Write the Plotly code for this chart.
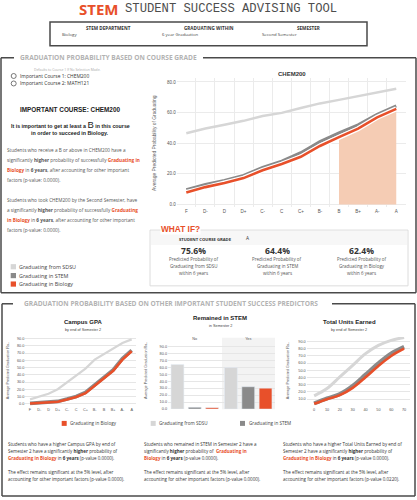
import plotly.graph_objects as go

# ---------------- data ----------------
grades = ["F", "D-", "D", "D+", "C-", "C", "C+", "B-", "B", "B+", "A-", "A"]
chem_sdsu = [46.5, 49.6, 52.1, 54.6, 57.8, 59.8, 63.0, 66.0, 68.3, 70.8, 73.6, 75.6]
chem_stem = [9.6, 13.1, 15.6, 19.0, 24.1, 28.3, 33.8, 41.0, 46.7, 52.0, 58.8, 64.4]
chem_bio = [7.8, 11.3, 14.0, 17.2, 22.3, 26.4, 31.1, 38.2, 44.0, 49.5, 56.9, 62.4]
min_grade = "B"
selected_grade = "A"

gpa_sdsu = [6.0, 9.6, 13.8, 20.0, 29.4, 38.0, 48.6, 61.0, 69.0, 77.0, 84.0, 89.0]
gpa_stem = [0.5, 1.4, 1.8, 3.2, 6.4, 10.0, 15.6, 25.7, 35.8, 46.8, 62.4, 74.0]
gpa_bio = [0.3, 1.0, 1.5, 2.8, 5.8, 9.3, 14.6, 24.5, 34.5, 45.5, 61.0, 72.5]

remained = ["No", "Yes"]
rem_sdsu = [64.0, 59.5]
rem_stem = [2.5, 32.0]
rem_bio = [2.0, 30.0]

units = [0, 10, 20, 30, 40, 50, 60, 70]
units_sdsu = [14.6, 24.7, 40.8, 56.9, 73.0, 84.5, 91.4, 95.5]
units_stem = [4.0, 11.0, 17.0, 28.4, 44.0, 59.7, 73.4, 82.6]
units_bio = [3.6, 10.0, 15.5, 25.6, 40.3, 56.0, 69.8, 79.9]

series_names = ["Graduating from SDSU", "Graduating in STEM", "Graduating in Biology"]

# ---------------- style ----------------
W, H = 417, 500
C_SDSU = "#d6d6d6"
C_STEM = "#8a8a8a"
C_BIO = "#e8502a"
C_FILL = "#f5ccb4"
OPEN = "Open Sans"
ARIAL = "Liberation Sans"
GRID = "#ebebeb"


def X(px):
    return px / W


def Y(py):
    return 1 - py / H


idx = list(range(len(grades)))
fig = go.Figure()

# ---- main CHEM200 chart ----
bi = grades.index(min_grade)
fig.add_trace(go.Scatter(x=idx[bi:], y=chem_bio[bi:], fill="tozeroy", fillcolor=C_FILL,
                         mode="lines", line=dict(width=0), showlegend=False, hoverinfo="skip",
                         xaxis="x", yaxis="y"))
fig.add_trace(go.Scatter(x=idx, y=chem_sdsu, mode="lines", line=dict(color=C_SDSU, width=2.5),
                         name=series_names[0], showlegend=False, xaxis="x", yaxis="y"))
fig.add_trace(go.Scatter(x=idx, y=chem_stem, mode="lines", line=dict(color="white", width=6),
                         showlegend=False, hoverinfo="skip", xaxis="x", yaxis="y"))
fig.add_trace(go.Scatter(x=idx, y=chem_stem, mode="lines", line=dict(color=C_STEM, width=3),
                         name=series_names[1], showlegend=False, xaxis="x", yaxis="y"))
fig.add_trace(go.Scatter(x=idx, y=chem_bio, mode="lines", line=dict(color="white", width=5),
                         showlegend=False, hoverinfo="skip", xaxis="x", yaxis="y"))
fig.add_trace(go.Scatter(x=idx, y=chem_bio, mode="lines", line=dict(color=C_BIO, width=2.6),
                         name=series_names[2], showlegend=False, xaxis="x", yaxis="y"))

# ---- GPA chart ----
for ys, c, w in [(gpa_sdsu, C_SDSU, 2.2), (gpa_stem, C_STEM, 3.6), (gpa_bio, C_BIO, 2.6)]:
    fig.add_trace(go.Scatter(x=idx, y=ys, mode="lines", line=dict(color=c, width=w),
                             showlegend=False, xaxis="x2", yaxis="y2"))

# ---- Remained in STEM bars ----
for ys, c, n in [(rem_sdsu, C_SDSU, series_names[0]), (rem_stem, C_STEM, series_names[1]),
                 (rem_bio, C_BIO, series_names[2])]:
    fig.add_trace(go.Bar(x=remained, y=ys, marker_color=c, name=n, showlegend=False,
                         xaxis="x3", yaxis="y3"))

# ---- Units chart ----
for ys, c, w in [(units_sdsu, C_SDSU, 3.0), (units_stem, C_STEM, 4.0), (units_bio, C_BIO, 2.6)]:
    fig.add_trace(go.Scatter(x=units, y=ys, mode="lines", line=dict(color=c, width=w, shape="spline"),
                             showlegend=False, xaxis="x4", yaxis="y4"))

tickf_main = dict(family=ARIAL, size=4.5, color="#555")
tickf_small = dict(family=ARIAL, size=3.8, color="#555")

layout = dict(
    width=W, height=H, margin=dict(l=0, r=0, t=0, b=0),
    paper_bgcolor="white", plot_bgcolor="rgba(0,0,0,0)",
    showlegend=False, barmode="group", bargap=0.03, bargroupgap=0.26,
    xaxis=dict(domain=[X(176.75), X(405.8)], range=[-0.5, 11.5], tickvals=idx, ticktext=grades,
               showgrid=False, zeroline=False, ticks="", anchor="y", tickfont=tickf_main,
               minor=dict(tick0=-0.5, dtick=1, showgrid=True, gridcolor=GRID, gridwidth=1)),
    yaxis=dict(domain=[Y(208), Y(78)], range=[-1.8, 82.8], tickvals=[0, 20, 40, 60, 80],
               tickformat=".1f", ticksuffix="%", gridcolor=GRID, zeroline=False, anchor="x",
               tickfont=tickf_main, ticks=""),
    xaxis2=dict(domain=[X(25.4), X(136.3)], range=[-0.5, 11.5], tickvals=idx, ticktext=grades,
                showgrid=False, zeroline=False, ticks="", anchor="y2", tickfont=tickf_small),
    yaxis2=dict(domain=[Y(407.5), Y(336.4)], range=[-3, 95], tickvals=list(range(0, 91, 10)),
                tickformat=".1f", ticksuffix="%", gridcolor="#e6e6e6", zeroline=False, anchor="x2",
                tickfont=tickf_small, ticks=""),
    xaxis3=dict(domain=[X(168), X(275)], side="top", showgrid=False, zeroline=False, ticks="",
                anchor="y3", tickfont=tickf_small),
    yaxis3=dict(domain=[Y(410.7), Y(342.8)], range=[0, 97], tickvals=list(range(0, 91, 10)),
                tickformat=".1f", ticksuffix="%", gridcolor="#e6e6e6", zeroline=False, anchor="x3",
                tickfont=tickf_small, ticks=""),
    xaxis4=dict(domain=[X(306.7), X(410)], range=[-5.8, 74.6], tickvals=units, showgrid=False,
                zeroline=False, ticks="", anchor="y4", tickfont=tickf_small),
    yaxis4=dict(domain=[Y(408), Y(338.4)], range=[0, 96], tickvals=list(range(10, 91, 10)),
                tickformat=".1f", ticksuffix="%", gridcolor="#e6e6e6", zeroline=False, anchor="x4",
                tickfont=tickf_small, ticks=""),
)
fig.update_layout(**layout)

shapes = []


def line(x0, y0, x1, y1, color="#4a4a4a", w=1.5):
    shapes.append(dict(type="line", xref="paper", yref="paper", x0=X(x0), y0=Y(y0), x1=X(x1), y1=Y(y1),
                       line=dict(color=color, width=w)))


def rect(x0, y0, x1, y1, line_color=None, fill=None, w=1.0, layer="above"):
    shapes.append(dict(type="rect", xref="paper", yref="paper", x0=X(x0), y0=Y(y0), x1=X(x1), y1=Y(y1),
                       line=dict(color=line_color or "rgba(0,0,0,0)", width=w if line_color else 0),
                       fillcolor=fill or "rgba(0,0,0,0)", layer=layer))


# filter box
rect(50, 22, 367, 46, line_color="#4a4a4a", w=1.5)
# section 1 frame
line(1, 58, 14, 58); line(203, 58, 416, 58)
line(1, 58, 1, 294); line(416, 58, 416, 294); line(1, 294, 416, 294)
# section 2 frame
line(2, 305, 13, 305); line(332, 305, 415, 305)
line(2, 305, 2, 498); line(415, 305, 415, 498); line(2, 498, 415, 498)
# what-if box
rect(150, 231, 408, 287, fill="white", layer="below")
rect(151, 232, 407, 246, fill="#f7f7f7", layer="below")
rect(150, 231, 408, 287, line_color="#dcdcdc", w=1)
# remained "Yes" pane background
rect(222, 339, 275, 411, fill="#f3f3f3", layer="below")
# radio buttons
for cy in (76.3, 83.8):
    shapes.append(dict(type="circle", xref="paper", yref="paper", x0=X(11.2), x1=X(16.2),
                       y0=Y(cy - 2.5), y1=Y(cy + 2.5), line=dict(color="#555", width=0.8)))
# legends (swatches)
for cy, c in zip((267.8, 276.7, 285.2), (C_SDSU, C_STEM, C_BIO)):
    rect(10.7, cy - 2.6, 16, cy + 2.6, fill=c)
for x0, c in zip((61.7, 150.7, 240), (C_BIO, C_SDSU, C_STEM)):
    rect(x0, 422.6, x0 + 5, 427.6, fill=c)

fig.update_layout(shapes=shapes)

anns = []


def A(x, y, text, size, color="#333", family=OPEN, xanchor="left", angle=0, bg=None):
    d = dict(xref="paper", yref="paper", x=X(x), y=Y(y), text=text, showarrow=False,
             xanchor=xanchor, yanchor="middle", textangle=angle,
             font=dict(family=family, size=size, color=color), borderpad=0)
    if bg:
        d["bgcolor"] = bg
    anns.append(d)


def org(t):
    return f"<span style='color:{C_BIO}'><b>{t}</b></span>"


# header
A(78, 9.5, "<b>STEM</b>", 15, C_BIO, OPEN)
A(124, 9, "STUDENT SUCCESS ADVISING TOOL", 12.2, "#4d4d4d", "Liberation Mono")
for cx, lx, head, val in [(108, 61, "STEM DEPARTMENT", "Biology"),
                          (208.7, 160.7, "GRADUATING WITHIN", "6 year Graduation"),
                          (308.8, 261, "SEMESTER", "Second Semester")]:
    A(cx, 28.4, f"<b>{head}</b>", 4.6, "#333", OPEN, "center")
    A(lx, 34.2, val, 4.3, "#444", OPEN)

# section headers
A(19, 58, "<b>GRADUATION PROBABILITY BASED ON COURSE GRADE</b>", 6.6, "#b3b3b3", OPEN, bg="white")
A(23, 305, "<b>GRADUATION PROBABILITY BASED ON OTHER IMPORTANT STUDENT SUCCESS PREDICTORS</b>",
  6.6, "#b3b3b3", OPEN, bg="white")

# left text panel
A(33, 69.8, "Defaults to Course 1 If No Selection Made.", 3.4, "#aaa", OPEN)
A(19, 76.3, "Important Course 1: CHEM200", 4.9, "#333", OPEN)
A(19, 83.8, "Important Course 2: MATH121", 4.9, "#333", OPEN)
A(70, 110, "<b>IMPORTANT COURSE: CHEM200</b>", 6.4, "#222", ARIAL, "center")
A(70, 125.3, f"<b>It is important to get at least a </b><span style='font-size:9.5px'>{min_grade}</span>"
  "<b> in this course</b>", 5.3, "#222", ARIAL, "center")
A(70, 133.2, "<b>in order to succeed in Biology.</b>", 5.3, "#222", ARIAL, "center")

para = [
    (150.3, f"Students who receive a {min_grade} or above in CHEM200 have a"),
    (160.3, f"significantly <b>higher</b> probability of successfully {org('Graduating in')}"),
    (170.6, f"{org('Biology')} in <b>6 years</b>, after accounting for other important"),
    (181, "factors (p-value: 0.0000)."),
    (201, "Students who took CHEM200 by the Second Semester, have"),
    (211, f"a significantly <b>higher</b> probability of successfully {org('Graduating')}"),
    (221.3, f"{org('in Biology')} in <b>6 years</b>, after accounting for other important"),
    (231.3, "factors (p-value: 0.0000)."),
]
for y, t in para:
    A(6, y, t, 4.7, "#555", OPEN)

for cy, n in zip((267.8, 276.7, 285.2), series_names):
    A(18, cy, n, 5.4, "#444", OPEN)

# main chart labels
A(291.7, 74.7, "<b>CHEM200</b>", 6.0, "#333", ARIAL, "center")
A(155, 143.5, "Average Predicted Probability of Graduating", 4.9, "#666", ARIAL, "center", -90)

# what-if
A(160, 229.8, "<b>WHAT IF?</b>", 8.3, C_BIO, ARIAL, bg="white")
A(178, 240.2, "<b>STUDENT COURSE GRADE</b>", 4.2, "#333", OPEN)
A(245, 238.8, selected_grade, 4.8, "#333", OPEN)
si = grades.index(selected_grade)
for cx, v, l2 in [(193.5, chem_sdsu[si], "Graduating from SDSU"),
                  (277, chem_stem[si], "Graduating in STEM"),
                  (361.5, chem_bio[si], "Graduating in Biology")]:
    A(cx, 252.3, f"<b>{v:.1f}%</b>", 8.6, "#333", OPEN, "center")
    A(cx, 260.3, "Predicted Probability of", 4.5, "#555", OPEN, "center")
    A(cx, 267.0, l2, 4.5, "#555", OPEN, "center")
    A(cx, 273.8, "within 6 years", 4.5, "#555", OPEN, "center")

# small chart titles
for cx, ty, t, sy, s, ytx in [(83.3, 323.7, "Campus GPA", 331.8, "by end of Semester 2", 8.3),
                              (220, 319.3, "Remained in STEM", 327.3, "in Semester 2", 146),
                              (349.3, 323.3, "Total Units Earned", 331.8, "by end of Semester 2", 288.3)]:
    A(cx, ty, f"<b>{t}</b>", 6.0, "#222", ARIAL, "center")
    A(cx, sy, s, 3.8, "#444", ARIAL, "center")
    A(ytx, 372.5, "Average Predicted Graduation Ra..", 3.7, "#555", ARIAL, "center", -90)

# bottom legend
for x0, n in zip((69, 158, 247.7), (series_names[2], series_names[0], series_names[1])):
    A(x0, 425.1, n, 4.6, "#444", OPEN)

cols = [
    (7, ["Students who have a higher Campus GPA by end of",
         "Semester 2 have a significantly <b>higher</b> probability of",
         f"{org('Graduating in Biology')} in <b>6 years</b> (p-value 0.0000).",
         "The effect remains significant at the 5% level, after",
         "accounting for other important factors (p-value 0.0000)."]),
    (143.3, ["Students who remained in STEM in Semester 2 have a",
             f"significantly <b>higher</b> probability of  {org('Graduating in')}",
             f"{org('Biology')} in <b>6 years</b> (p-value 0.0000).",
             "The effect remains significant at the 5% level, after",
             "accounting for other important factors (p-value 0.0000)."]),
    (282, ["Students who have a higher Total Units Earned by end of",
           "Semester 2 have a significantly <b>higher</b> probability of",
           f"{org('Graduating in Biology')} in <b>6 years</b> (p-value 0.0000).",
           "The effect remains significant at the 5% level, after",
           "accounting for other important factors (p-value 0.0220)."]),
]
for x0, lines in cols:
    for y, t in zip((445.3, 452.7, 460.1, 473.4, 481.0), lines):
        A(x0, y, t, 4.5, "#333", OPEN)

fig.update_layout(annotations=anns)
fig.write_html("out.html", config={"displayModeBar": False},
               post_script="document.body.style.margin='0px';document.body.style.padding='0px';")
